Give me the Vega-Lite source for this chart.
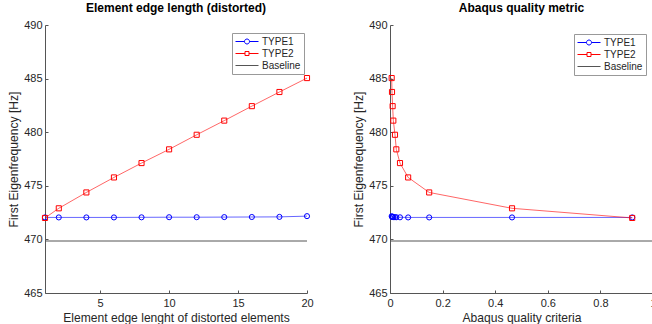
{
  "$schema": "https://vega.github.io/schema/vega-lite/v6.json",
  "padding": {"left": 7, "top": 2, "right": 0, "bottom": 0},
  "background": "white",
  "config": {
    "view": {"stroke": null},
    "font": "Liberation Sans",
    "axis": {
      "grid": false,
      "domainColor": "#555555",
      "tickColor": "#555555",
      "labelColor": "#262626",
      "titleColor": "#262626",
      "labelFont": "Liberation Sans",
      "titleFont": "Liberation Sans",
      "labelFontSize": 11,
      "titleFontSize": 12.1,
      "titleFontWeight": "normal",
      "tickSize": -3,
      "labelFlush": false,
      "labelOverlap": false
    },
    "title": {"font": "Liberation Sans", "fontSize": 12, "fontWeight": "bold", "color": "#000000", "offset": 4},
    "legend": {
      "labelFont": "Liberation Sans",
      "labelFontSize": 10,
      "labelColor": "#262626",
      "strokeColor": "#999999",
      "fillColor": "white",
      "padding": 3,
      "rowPadding": 1,
      "symbolSize": 100,
      "labelOffset": 16,
      "title": null
    }
  },
  "datasets": {
    "edge": [
      {"x": 1, "y": 472.05, "series": "TYPE1"},
      {"x": 2, "y": 472.05, "series": "TYPE1"},
      {"x": 4, "y": 472.05, "series": "TYPE1"},
      {"x": 6, "y": 472.05, "series": "TYPE1"},
      {"x": 8, "y": 472.06, "series": "TYPE1"},
      {"x": 10, "y": 472.07, "series": "TYPE1"},
      {"x": 12, "y": 472.07, "series": "TYPE1"},
      {"x": 14, "y": 472.08, "series": "TYPE1"},
      {"x": 16, "y": 472.09, "series": "TYPE1"},
      {"x": 18, "y": 472.1, "series": "TYPE1"},
      {"x": 20, "y": 472.17, "series": "TYPE1"},
      {"x": 1, "y": 472.0, "series": "TYPE2"},
      {"x": 2, "y": 472.9, "series": "TYPE2"},
      {"x": 4, "y": 474.38, "series": "TYPE2"},
      {"x": 6, "y": 475.78, "series": "TYPE2"},
      {"x": 8, "y": 477.12, "series": "TYPE2"},
      {"x": 10, "y": 478.4, "series": "TYPE2"},
      {"x": 12, "y": 479.76, "series": "TYPE2"},
      {"x": 14, "y": 481.08, "series": "TYPE2"},
      {"x": 16, "y": 482.43, "series": "TYPE2"},
      {"x": 18, "y": 483.75, "series": "TYPE2"},
      {"x": 20, "y": 485.05, "series": "TYPE2"},
      {"x": 1, "y": 469.85, "series": "Baseline"},
      {"x": 20, "y": 469.85, "series": "Baseline"}
    ],
    "quality": [
      {"q": 0.921, "y": 472.05, "series": "TYPE1"},
      {"q": 0.464, "y": 472.05, "series": "TYPE1"},
      {"q": 0.149, "y": 472.05, "series": "TYPE1"},
      {"q": 0.069, "y": 472.05, "series": "TYPE1"},
      {"q": 0.038, "y": 472.06, "series": "TYPE1"},
      {"q": 0.024, "y": 472.07, "series": "TYPE1"},
      {"q": 0.019, "y": 472.07, "series": "TYPE1"},
      {"q": 0.0127, "y": 472.08, "series": "TYPE1"},
      {"q": 0.010, "y": 472.09, "series": "TYPE1"},
      {"q": 0.0076, "y": 472.1, "series": "TYPE1"},
      {"q": 0.0064, "y": 472.17, "series": "TYPE1"},
      {"q": 0.921, "y": 472.0, "series": "TYPE2"},
      {"q": 0.464, "y": 472.9, "series": "TYPE2"},
      {"q": 0.149, "y": 474.38, "series": "TYPE2"},
      {"q": 0.069, "y": 475.78, "series": "TYPE2"},
      {"q": 0.038, "y": 477.12, "series": "TYPE2"},
      {"q": 0.024, "y": 478.4, "series": "TYPE2"},
      {"q": 0.019, "y": 479.76, "series": "TYPE2"},
      {"q": 0.0127, "y": 481.08, "series": "TYPE2"},
      {"q": 0.010, "y": 482.43, "series": "TYPE2"},
      {"q": 0.0076, "y": 483.75, "series": "TYPE2"},
      {"q": 0.0064, "y": 485.05, "series": "TYPE2"},
      {"q": 0, "y": 469.85, "series": "Baseline"},
      {"q": 1, "y": 469.85, "series": "Baseline"}
    ]
  },
  "resolve": {"scale": {"color": "independent", "shape": "independent"}, "legend": {"color": "independent"}},
  "spacing": 38,
  "hconcat": [
    {
      "width": 262,
      "height": 268,
      "title": "Element edge length (distorted)",
      "data": {"name": "edge"},
      "encoding": {
        "x": {"field": "x", "type": "quantitative", "scale": {"domain": [1, 20], "nice": false, "zero": false},
              "axis": {"values": [5, 10, 15, 20], "title": "Element edge lenght of distorted elements", "labelPadding": 7, "titlePadding": 3}},
        "y": {"field": "y", "type": "quantitative", "scale": {"domain": [465, 490], "nice": false, "zero": false},
              "axis": {"values": [465, 470, 475, 480, 485, 490], "title": "First Eigenfrequency [Hz]", "labelPadding": 6, "titlePadding": 3}},
        "color": {"field": "series", "type": "nominal",
                  "scale": {"domain": ["TYPE1", "TYPE2", "Baseline"], "range": ["#0000ff", "#ff0000", "#555555"]},
                  "legend": {"orient": "none", "legendX": 187, "legendY": 8,
                    "encode": {"symbols": {"update": {
                      "shape": {"signal": "datum.value === 'TYPE1' ? 'M-1,0H0.8M1.8,0H3.6M0.8,0A0.5,0.5,0,1,1,1.8,0A0.5,0.5,0,1,1,0.8,0' : datum.value === 'TYPE2' ? 'M-1,0H0.9M1.7,0H3.6M0.9,-0.4H1.7V0.4H0.9Z' : 'M-1,0H3.6'"},
                      "stroke": {"signal": "datum.value === 'TYPE1' ? '#0000ff' : datum.value === 'TYPE2' ? '#ff0000' : '#333333'"},
                      "fill": {"value": "transparent"},
                      "strokeWidth": {"value": 1},
                      "opacity": {"value": 1}
                    }}}}}
      },
      "layer": [
        {"transform": [{"filter": "datum.series !== 'Baseline'"}], "mark": {"type": "line", "strokeWidth": 1, "strokeOpacity": 0.6}},
        {"transform": [{"filter": "datum.series === 'Baseline'"}], "mark": {"type": "line", "strokeWidth": 1}},
        {"transform": [{"filter": "datum.series !== 'Baseline'"}], "mark": {"type": "point", "filled": false, "strokeWidth": 1, "opacity": 1},
         "encoding": {"shape": {"field": "series", "type": "nominal", "scale": {"domain": ["TYPE1", "TYPE2"], "range": ["circle", "square"]}, "legend": null},
                      "size": {"value": 26}}}
      ]
    },
    {
      "width": 263,
      "height": 268,
      "title": "Abaqus quality metric",
      "data": {"name": "quality"},
      "encoding": {
        "x": {"field": "q", "type": "quantitative", "scale": {"domain": [0, 1], "nice": false},
              "axis": {"values": [0, 0.2, 0.4, 0.6, 0.8, 1], "format": "~g", "title": "Abaqus quality criteria", "labelPadding": 7, "titlePadding": 3}},
        "y": {"field": "y", "type": "quantitative", "scale": {"domain": [465, 490], "nice": false, "zero": false},
              "axis": {"values": [465, 470, 475, 480, 485, 490], "title": "First Eigenfrequency [Hz]", "labelPadding": 6, "titlePadding": 3}},
        "color": {"field": "series", "type": "nominal",
                  "scale": {"domain": ["TYPE1", "TYPE2", "Baseline"], "range": ["#0000ff", "#ff0000", "#555555"]},
                  "legend": {"orient": "none", "legendX": 184, "legendY": 9,
                    "encode": {"symbols": {"update": {
                      "shape": {"signal": "datum.value === 'TYPE1' ? 'M-1,0H0.8M1.8,0H3.6M0.8,0A0.5,0.5,0,1,1,1.8,0A0.5,0.5,0,1,1,0.8,0' : datum.value === 'TYPE2' ? 'M-1,0H0.9M1.7,0H3.6M0.9,-0.4H1.7V0.4H0.9Z' : 'M-1,0H3.6'"},
                      "stroke": {"signal": "datum.value === 'TYPE1' ? '#0000ff' : datum.value === 'TYPE2' ? '#ff0000' : '#333333'"},
                      "fill": {"value": "transparent"},
                      "strokeWidth": {"value": 1},
                      "opacity": {"value": 1}
                    }}}}}
      },
      "layer": [
        {"transform": [{"filter": "datum.series !== 'Baseline'"}], "mark": {"type": "line", "strokeWidth": 1, "strokeOpacity": 0.6}},
        {"transform": [{"filter": "datum.series === 'Baseline'"}], "mark": {"type": "line", "strokeWidth": 1}},
        {"transform": [{"filter": "datum.series !== 'Baseline'"}], "mark": {"type": "point", "filled": false, "strokeWidth": 1, "opacity": 1},
         "encoding": {"shape": {"field": "series", "type": "nominal", "scale": {"domain": ["TYPE1", "TYPE2"], "range": ["circle", "square"]}, "legend": null},
                      "size": {"value": 26}}}
      ]
    }
  ]
}
